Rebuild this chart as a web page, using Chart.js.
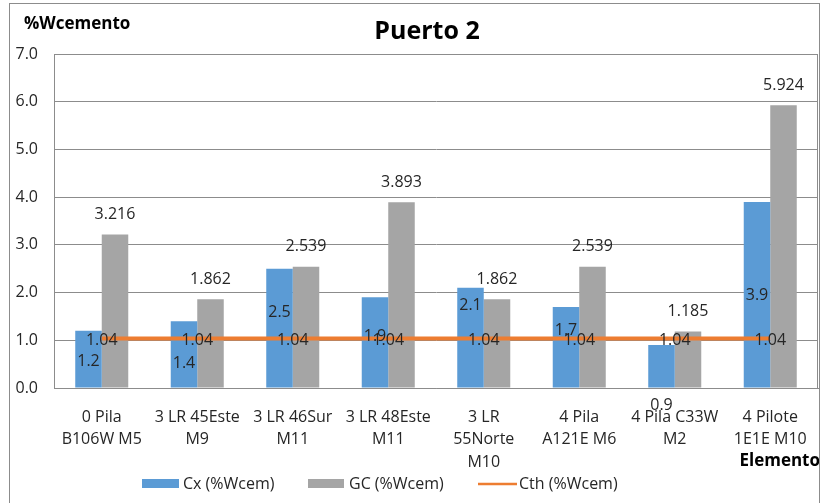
<!DOCTYPE html>
<html>
<head>
<meta charset="utf-8">
<script src="https://cdn.jsdelivr.net/npm/chart.js@4"></script>
<style>
  html, body { margin: 0; padding: 0; background: #fff; }
  #wrap { position: relative; width: 823px; height: 503px; }
  #frame { position: absolute; left: 9px; top: 3px; width: 811px; height: 510px; border: 1px solid #8c8c8c; box-sizing: border-box; pointer-events: none; }
</style>
</head>
<body>
<div id="wrap">
  <canvas id="chart" width="823" height="503"></canvas>
  <div id="frame"></div>
</div>
<script>
// Categorías (eje X)
const categories = [
  ['0 Pila', 'B106W M5'],
  ['3 LR 45Este', 'M9'],
  ['3 LR 46Sur', 'M11'],
  ['3 LR 48Este', 'M11'],
  ['3 LR', '55Norte', 'M10'],
  ['4 Pila', 'A121E M6'],
  ['4 Pila C33W', 'M2'],
  ['4 Pilote', '1E1E M10']
];
// Series
const cxValues = [1.2, 1.4, 2.5, 1.9, 2.1, 1.7, 0.9, 3.9];
const gcValues = [3.216, 1.862, 2.539, 3.893, 1.862, 2.539, 1.185, 5.924];
const cthValues = [1.04, 1.04, 1.04, 1.04, 1.04, 1.04, 1.04, 1.04];
// Etiquetas de Cx (texto mostrado)
const cxLabels = ['1.2', '1.4', '2.5', '1.9', '2.1', '1.7', '0.9', '3.9'];
// Ticks eje Y
const yTicks = [0, 1, 2, 3, 4, 5, 6, 7];

const FONT = '"Open Sans", "Noto Sans", sans-serif';
const TEXT = '#262626';

// Posición vertical de las etiquetas de Cx (en unidades del eje, tal como quedaron en el original)
const cxLabelLevel = [0.566, 0.524, 1.577, 1.076, 1.72, 1.215, -0.356, 1.935];

const labelsPlugin = {
  id: 'labels',
  afterDatasetsDraw(chart) {
    const ctx = chart.ctx;
    const y = chart.scales.y;
    const a = chart.chartArea;

    // borde del área de trazado
    ctx.save();
    ctx.strokeStyle = '#8c8c8c';
    ctx.lineWidth = 1;
    ctx.beginPath();
    ctx.moveTo(a.left, a.top + 0.5);
    ctx.lineTo(a.right - 0.5, a.top + 0.5);
    ctx.lineTo(a.right - 0.5, a.bottom);
    ctx.stroke();

    ctx.font = '16px ' + FONT;
    ctx.fillStyle = TEXT;
    ctx.textAlign = 'center';
    ctx.textBaseline = 'middle';

    const cxMeta = chart.getDatasetMeta(0);
    const gcMeta = chart.getDatasetMeta(1);
    const thMeta = chart.getDatasetMeta(2);

    cxMeta.data.forEach((bar, i) => {
      ctx.fillText(cxLabels[i], bar.x, y.getPixelForValue(cxLabelLevel[i]));
    });
    gcMeta.data.forEach((bar, i) => {
      ctx.fillText(gcValues[i].toFixed(3), bar.x, bar.y - 20);
    });
    thMeta.data.forEach((pt, i) => {
      ctx.fillText(cthValues[i].toFixed(2), pt.x, pt.y + 2);
    });

    // Títulos
    ctx.font = 'bold 25px ' + FONT;
    ctx.fillStyle = '#000';
    ctx.fillText('Puerto 2', 427, 32);

    ctx.font = 'bold 17px ' + FONT;
    ctx.textAlign = 'left';
    ctx.fillText('%Wcemento', 24, 24);
    ctx.textAlign = 'right';
    ctx.fillText('Elemento', 820, 461);

    // Leyenda
    ctx.font = '16px ' + FONT;
    ctx.textAlign = 'left';
    ctx.fillStyle = '#5B9BD5';
    ctx.fillRect(142, 479, 37, 9);
    ctx.fillStyle = '#A5A5A5';
    ctx.fillRect(308, 479, 36, 9);
    ctx.strokeStyle = '#ED7D31';
    ctx.lineWidth = 2.5;
    ctx.beginPath();
    ctx.moveTo(478, 484);
    ctx.lineTo(517, 484);
    ctx.stroke();
    ctx.fillStyle = TEXT;
    ctx.fillText('Cx (%Wcem)', 183, 484);
    ctx.fillText('GC (%Wcem)', 349, 484);
    ctx.fillText('Cth (%Wcem)', 519, 484);
    ctx.restore();
  }
};

const ctx = document.getElementById('chart').getContext('2d');

new Chart(ctx, {
  data: {
    labels: categories,
    datasets: [
      {
        type: 'bar',
        label: 'Cx (%Wcem)',
        data: cxValues,
        backgroundColor: '#5B9BD5',
        categoryPercentage: 0.555,
        barPercentage: 1,
        order: 1
      },
      {
        type: 'bar',
        label: 'GC (%Wcem)',
        data: gcValues,
        backgroundColor: '#A5A5A5',
        categoryPercentage: 0.555,
        barPercentage: 1,
        order: 1
      },
      {
        type: 'line',
        label: 'Cth (%Wcem)',
        data: cthValues,
        borderColor: '#ED7D31',
        backgroundColor: '#ED7D31',
        borderWidth: 4,
        pointRadius: 0,
        order: 0
      }
    ]
  },
  options: {
    responsive: false,
    animation: false,
    layout: { padding: { top: 54, right: 5, left: 0, bottom: 0 } },
    plugins: {
      legend: { display: false },
      tooltip: { enabled: false }
    },
    scales: {
      x: {
        grid: { display: false },
        border: { color: '#8c8c8c', width: 1 },
        ticks: {
          color: TEXT,
          font: { family: FONT, size: 16, lineHeight: 1.4 },
          maxRotation: 0,
          autoSkip: false,
          padding: 10
        },
        afterFit(scale) { scale.height = 115; }
      },
      y: {
        min: 0,
        max: 7,
        afterBuildTicks(scale) { scale.ticks = yTicks.map(v => ({ value: v })); },
        grid: { color: '#8c8c8c', drawTicks: false },
        border: { color: '#8c8c8c', width: 1 },
        ticks: {
          color: TEXT,
          font: { family: FONT, size: 16 },
          padding: 16,
          callback: v => Number(v).toFixed(1)
        },
        afterFit(scale) { scale.width = 54; }
      }
    }
  },
  plugins: [labelsPlugin]
});
</script>
</body>
</html>
